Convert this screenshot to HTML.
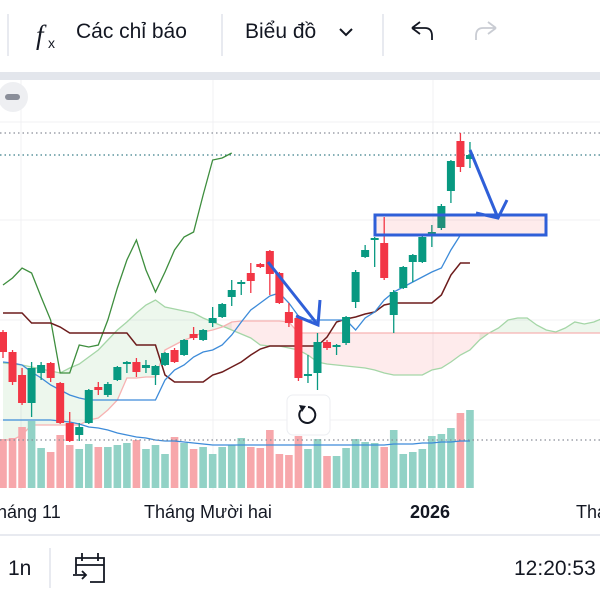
<!DOCTYPE html>
<html><head><meta charset="utf-8">
<style>
html,body{margin:0;padding:0;background:#fff;width:600px;height:600px;overflow:hidden;font-family:"Liberation Sans","Noto Sans CJK SC",sans-serif;}
#wrap{position:relative;width:600px;height:600px;overflow:hidden;}
.t{position:absolute;color:#131722;white-space:nowrap;}
</style></head><body>
<div id="wrap">
<svg id="svg" width="600" height="600" viewBox="0 0 600 600" style="position:absolute;left:0;top:0"></svg>
<div class="t" style="left:76px;top:20px;font-size:21px">Các chỉ báo</div>
<div class="t" style="left:245px;top:20px;font-size:21px">Biểu đồ</div>
<div class="t" style="left:-14px;top:502px;font-size:18px">Tháng 11</div>
<div class="t" style="left:144px;top:502px;font-size:18px">Tháng Mười hai</div>
<div class="t" style="left:410px;top:502px;font-size:18px;font-weight:bold">2026</div>
<div class="t" style="left:576px;top:502px;font-size:18px">Tháng 2</div>
<div class="t" style="left:8px;top:557px;font-size:21px">1n</div>
<div class="t" style="left:514px;top:557px;font-size:21px">12:20:53</div>
</div>
<script>
// candle data (price units)
const opens  =[168,148,125,97,127,137,117,77,65,77,113,105,120,137,138,132,125,135,150,145,166,160,177,183,203,217,227,236,249,227,188,182,125,127,158,154,157,198,243,261,257,185,212,238,238,265,272,309,359,341];
const highs  =[170,150,132,138,138,138,118,88,77,111,118,118,134,139,142,140,135,148,152,161,173,171,193,197,220,220,237,237,250,228,197,185,145,167,160,156,184,230,255,263,283,210,234,246,264,275,296,340,367,358];
const lows   =[142,115,95,83,120,118,76,58,59,76,105,103,119,127,123,127,115,134,137,144,160,159,173,182,194,205,207,232,205,196,173,119,117,110,150,145,155,192,242,233,220,167,211,218,237,253,270,297,328,332];
const closes =[148,118,97,132,135,122,77,59,73,110,110,116,133,138,128,135,134,147,138,160,162,170,182,196,210,218,219,233,226,197,177,122,126,158,152,155,183,228,250,262,222,208,233,245,263,268,294,339,333,345];
const volumes=[49,50,61,67,40,36,53,43,39,44,41,41,43,45,48,39,43,34,51,45,39,41,34,41,43,50,41,40,58,34,33,52,39,49,32,32,40,49,46,45,41,58,34,36,39,52,54,60,75,78];
const volMA  =[68,68,68,68,68,68,67,66,64,61,60,58,55,53,51,50,48,47,47,46,45,44,43,43,43,43,43,43,43,43,43,43,43,43,43,43,43,43,43,43,43,44,44,44,45,45,46,46,47,47];
const tenkan =[138,137,135,128,122,115,110,105,102,100,100,100,100,100,100,100,100,120,130,135,143,148,150,155,165,178,190,197,204,207,197,184,180,180,180,180,180,170,182,188,200,208,213,218,223,228,232,250,265];
const kijun  =[187,187,187,177,177,177,173,167,167,167,167,167,167,167,155,155,155,125,118,118,118,118,125,128,133,138,145,151,154,154,154,154,154,154,163,178,181,183,186,188,195,197,197,197,197,197,205,225,237,237];
const chikou =[215,222,232,227,203,180,127,127,155,153,155,180,212,240,260,230,208,228,250,263,268,305,340,342,347];
const spanA  =[137,136,135,133,131,129,127,132,136,143,150,160,170,178,187,195,200,193,191,189,187,182,178,174,170,166,162,155,154,154,152,150,145,138,136,135,134,133,132,130,127,125,125,125,125,130,132,138,145,150,160,167,172,180,182,182,175,170,168,172,178,176,178,182];
const spanB  =[60,60,65,75,75,75,75,75,75,80,82,90,100,122,122,123,123,150,155,160,163,168,170,173,178,179,179,179,179,179,178,167,167,167,167,167,167,167,167,167,167,167,167,167,167,167,167,167,167,167,167,167,167,167,167,167,167,167,167,167,167,167,167,167];

const svg=document.getElementById('svg');
const NS='http://www.w3.org/2000/svg';
function xS(i){return 3+i*9.53;}
function yS(p){return 500-p;}
function vS(v){return 488-v;}
function mk(tag,attrs,name,parent){const e=document.createElementNS(NS,tag);for(const k in attrs)e.setAttribute(k,attrs[k]);(parent||svg).appendChild(e);return e;}

mk('rect',{x:0,y:72,width:600,height:8,fill:'#e3e6ec'},'toolbar-divider');
[21,213,433].forEach((x,k)=>mk('line',{x1:x,y1:80,x2:x,y2:490,stroke:'#f0f1f3','stroke-width':1},'grid-vertical'));
[122,220,320,420].forEach(y=>mk('line',{x1:0,y1:y,x2:600,y2:y,stroke:'#f0f1f3','stroke-width':1},'grid-horizontal'));
[8,222,383].forEach(x=>mk('line',{x1:x,y1:14,x2:x,y2:56,stroke:'#e0e3eb','stroke-width':1.5},'toolbar-separator'));
mk('line',{x1:0,y1:535,x2:600,y2:535,stroke:'#e0e3eb','stroke-width':1.5},'bottom-divider');
mk('line',{x1:50,y1:548,x2:50,y2:588,stroke:'#e0e3eb','stroke-width':1.5},'bottom-separator');

function cloudPath(cond){
  let segs=[];
  for(let i=0;i<spanA.length-1;i++){
    const a1=spanA[i],a2=spanA[i+1],b1=spanB[i],b2=spanB[i+1];
    if(cond(a1,b1)||cond(a2,b2)){
      segs.push(`M${xS(i)},${yS(a1)}L${xS(i+1)},${yS(a2)}L${xS(i+1)},${yS(b2)}L${xS(i)},${yS(b1)}Z`);
    }
  }
  return segs.join('');
}
mk('path',{d:cloudPath((a,b)=>a>=b),fill:'rgba(76,175,80,0.10)'},'cloud-bullish-fill');
mk('path',{d:cloudPath((a,b)=>a<b),fill:'rgba(242,54,69,0.10)'},'cloud-bearish-fill');

function line(arr,color,w,name,fn){
  const pts=arr.map((v,i)=>xS(i)+','+(fn||yS)(v)).join(' ');
  mk('polyline',{points:pts,fill:'none',stroke:color,'stroke-width':w},name);
}
line(spanA,'#a5d6a7',1.3,'senkou-span-a');
line(spanB,'#f7b2b2',1.3,'senkou-span-b');

volumes.forEach((v,i)=>{
  const up=closes[i]>=opens[i];
  mk('rect',{x:xS(i)-3.8,y:vS(v),width:7.6,height:v,fill:up?'#92d2c6':'#f7a7ab'},'volume-bar');
});
line(volMA,'#3d8bd9',1.3,'volume-ma-line',vS);
mk('line',{x1:0,y1:440,x2:600,y2:440,stroke:'#8a8e99','stroke-width':1.3,'stroke-dasharray':'1.5 3'},'volume-price-line');
mk('line',{x1:0,y1:133,x2:600,y2:133,stroke:'#8a8e99','stroke-width':1.3,'stroke-dasharray':'1.5 3'},'high-price-line');
mk('line',{x1:0,y1:155,x2:600,y2:155,stroke:'#3c7f8a','stroke-width':1.3,'stroke-dasharray':'1.5 3'},'last-price-line');

line(chikou,'#3e8e3e',1.3,'chikou-span');
line(kijun,'#6d1c1c',1.5,'kijun-sen');
line(tenkan,'#3d8bd9',1.3,'tenkan-sen');

opens.forEach((o,i)=>{
  const c=closes[i],up=c>=o,col=up?'#089981':'#f23645',x=xS(i);
  mk('line',{x1:x,y1:yS(highs[i]),x2:x,y2:yS(lows[i]),stroke:col,'stroke-width':1.3},'candle-wick');
  const top=yS(Math.max(o,c)),h=Math.max(2,Math.abs(o-c));
  mk('rect',{x:x-4,y:top,width:8,height:h,fill:col},'candle-body');
});

mk('rect',{x:375,y:215,width:171,height:20,fill:'rgba(242,54,69,0.10)',stroke:'#2f5fd8','stroke-width':3},'support-zone-box');
mk('polyline',{points:'268,262 318,325',fill:'none',stroke:'#2f5fd8','stroke-width':3},'arrow-down-1');
mk('polyline',{points:'296,316 318,325 320,300',fill:'none',stroke:'#2f5fd8','stroke-width':3},'arrow-head-1');
mk('polyline',{points:'470,150 498,218',fill:'none',stroke:'#2f5fd8','stroke-width':3},'arrow-down-2');
mk('polyline',{points:'476,213 498,218 507,200',fill:'none',stroke:'#2f5fd8','stroke-width':3},'arrow-head-2');

mk('circle',{cx:13,cy:97,r:15,fill:'#eeeff2'},'zoom-out-button');
mk('rect',{x:5,y:94,width:15,height:6,rx:3,fill:'#8a8e99'},'zoom-out-icon');
const rb=mk('rect',{x:287,y:395,width:43,height:40,rx:6,fill:'#fff',stroke:'#eceef2'},'reset-button');

mk('path',{d:'M301,410 A8,8 0 1 0 308,407',fill:'none',stroke:'#131722','stroke-width':2},'reset-icon');
mk('path',{d:'M299,405 L302,412 L306,406 Z',fill:'#131722'},'reset-icon-head');

const fx=mk('text',{x:36,y:44,'font-size':27,'font-family':'Liberation Serif, serif','font-style':'italic',fill:'#131722'},'fx-icon');fx.textContent='f';
const fx2=mk('text',{x:48,y:48,'font-size':14,'font-family':'Liberation Sans, sans-serif',fill:'#131722'},'fx-icon-sub');fx2.textContent='x';
mk('polyline',{points:'340,29 346,35 352,29',fill:'none',stroke:'#131722','stroke-width':2},'chevron-icon');
mk('path',{d:'M412,28 L420,22 M412,28 L420,34 M412,28 L425,28 Q432,28 432,36 L432,40',fill:'none',stroke:'#131722','stroke-width':1.8},'undo-icon');
mk('path',{d:'M496,28 L488,22 M496,28 L488,34 M496,28 L483,28 Q476,28 476,36 L476,40',fill:'none',stroke:'#c9ccd3','stroke-width':1.8},'redo-icon');
mk('path',{d:'M76,574 L76,558 L104,558 L104,582 L90,582 M76,565 L104,565 M82,553 L82,561 M98,553 L98,561 M73,575 L86,575 M82,571 L86,575 L82,579',fill:'none',stroke:'#131722','stroke-width':1.8},'go-to-date-icon');
</script>
</body></html>
